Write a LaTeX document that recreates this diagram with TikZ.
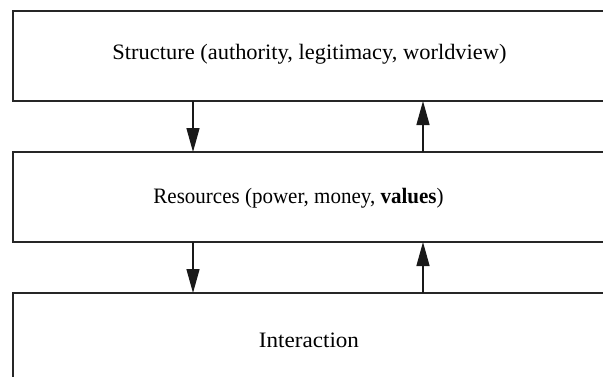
\documentclass[tikz,border=0pt]{standalone}
\usepackage{fontspec}
\setmainfont{Liberation Serif}
\usetikzlibrary{arrows.meta}
\begin{document}
\begin{tikzpicture}[x=1pt,y=-1pt,
  layer/.style={draw=black!85,line width=1.4pt},
  label/.style={anchor=base,inner sep=0pt,font=\fontsize{22}{25}\selectfont},
  link/.style={line width=1.4pt,draw=black!90,-{Triangle[length=24pt,width=13pt]}}]
  \useasboundingbox (0,0) rectangle (603,376);
  \begin{scope}
    \clip (0,0) rectangle (603,376);
    % three stacked layers, running off the right and bottom edges
    \draw[layer] (13,11) rectangle (612,101);
    \draw[layer] (13,152) rectangle (612,242);
    \draw[layer] (13,293) rectangle (612,390);
  \end{scope}
  \node[label] (s) at (309.5,59) {\scalebox{1.02}[1]{Structure (authority, legitimacy, worldview)}};
  \node[label] (r) at (298.5,203) {\scalebox{0.955}[1]{Resources (power, money, \textbf{values})}};
  \node[label] (i) at (309,347) {\scalebox{1.05}[1]{Interaction}};
  % connection points on the layer edges
  \coordinate (s1) at (193,101);
  \coordinate (s2) at (423,101);
  \coordinate (r1) at (193,152);
  \coordinate (r2) at (423,152);
  \coordinate (r3) at (193,242);
  \coordinate (r4) at (423,242);
  \coordinate (i1) at (193,293);
  \coordinate (i2) at (423,293);
  \draw[link] (s1) -- (r1);
  \draw[link] (r2) -- (s2);
  \draw[link] (r3) -- (i1);
  \draw[link] (i2) -- (r4);
\end{tikzpicture}
\end{document}
